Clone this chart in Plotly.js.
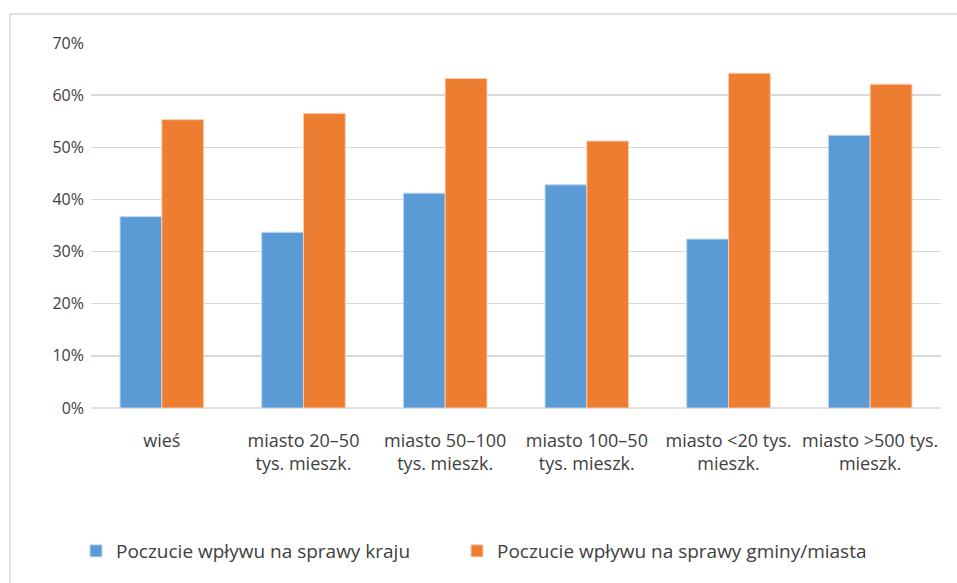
<!DOCTYPE html>
<html>
<head>
<meta charset="utf-8">
<script src="https://cdn.plot.ly/plotly-3.0.1.min.js"></script>
<style>html,body{margin:0;padding:0;background:#fff;}#chart{width:957px;height:583px;}</style>
</head>
<body>
<div id="chart"></div>
<script>
const categories = ["wieś", "miasto 20–50<br>tys. mieszk.", "miasto 50–100<br>tys. mieszk.", "miasto 100–50<br>tys. mieszk.", "miasto <20 tys.<br>mieszk.", "miasto >500 tys.<br>mieszk."];
const seriesNames = ["Poczucie wpływu na sprawy kraju", "Poczucie wpływu na sprawy gminy/miasta"];
const krajValues = [0.367, 0.337, 0.412, 0.428, 0.324, 0.523];
const gminaValues = [0.553, 0.565, 0.632, 0.512, 0.642, 0.621];
const yTickVals = [0, 0.1, 0.2, 0.3, 0.4, 0.5, 0.6, 0.7];

const W = 957, H = 583;
const mL = 91, mR = 16, mT = 43, mB = 175;
const pw = W - mL - mR, ph = H - mT - mB;
const px = x => (x - mL) / pw;
const py = y => (H - mB - y) / ph;

const traces = [
  {type: 'bar', name: seriesNames[0], x: categories, y: krajValues, legend: 'legend',
   marker: {color: '#5b9bd5', line: {color: '#bdd7ee', width: 1}}},
  {type: 'bar', name: seriesNames[1], x: categories, y: gminaValues, legend: 'legend2',
   marker: {color: '#ed7d31', line: {color: '#f8cbad', width: 1}}}
];

const legendBase = {orientation: 'h', xanchor: 'left', y: py(551), yanchor: 'middle',
                    font: {size: 19, color: '#404040'}, bgcolor: 'rgba(0,0,0,0)'};

const layout = {
  width: W, height: H,
  margin: {l: mL, r: mR, t: mT, b: mB},
  paper_bgcolor: '#ffffff', plot_bgcolor: '#ffffff',
  font: {family: 'Open Sans, sans-serif', size: 16, color: '#404040'},
  barmode: 'group', bargap: 0.41, bargroupgap: 0,
  showlegend: true,
  legend: Object.assign({}, legendBase, {x: px(76)}),
  legend2: Object.assign({}, legendBase, {x: px(457)}),
  xaxis: {type: 'category', showgrid: false, showline: false, zeroline: false,
          ticks: '', tickfont: {size: 18, color: '#404040'}, tickangle: 0, ticklabelstandoff: 20},
  yaxis: {range: [0, 0.7], tickvals: yTickVals, tickformat: '.0%', showgrid: true,
          gridcolor: '#d9d9d9', gridwidth: 1.5, zeroline: false, showline: false, ticks: '',
          tickfont: {size: 16, color: '#404040'}, ticklabelstandoff: 6},
  shapes: [
    {type: 'rect', xref: 'paper', yref: 'paper', x0: px(10), x1: px(980), y0: py(14), y1: py(600),
     line: {color: '#d9d9d9', width: 1.5}, fillcolor: 'rgba(0,0,0,0)', layer: 'below'},
    {type: 'line', xref: 'paper', yref: 'paper', x0: 0, x1: 1, y0: 0, y1: 0,
     line: {color: '#d9d9d9', width: 1.5}, layer: 'below'}
  ]
};

Plotly.newPlot('chart', traces, layout, {displayModeBar: false, staticPlot: true});
</script>
</body>
</html>
